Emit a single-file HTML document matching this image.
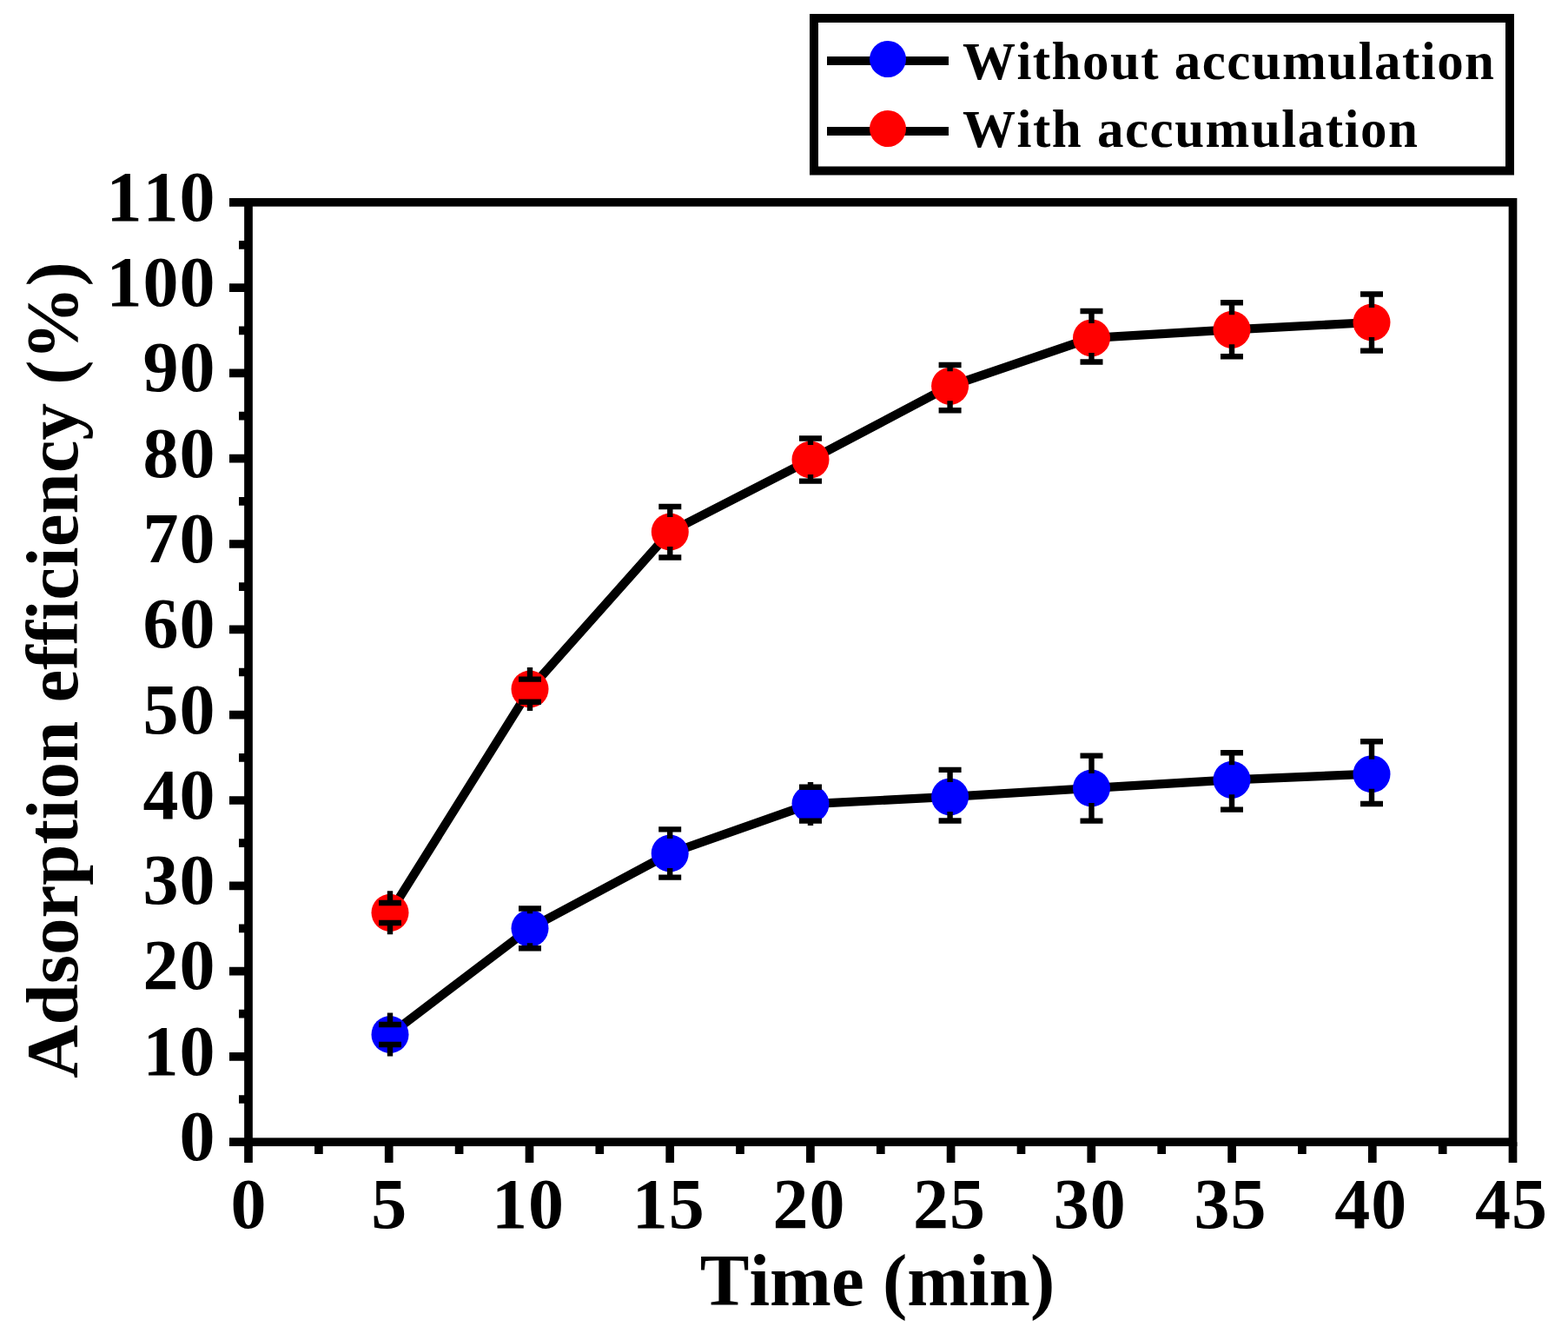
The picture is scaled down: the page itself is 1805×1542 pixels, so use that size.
<!DOCTYPE html>
<html><head><meta charset="utf-8"><title>Adsorption efficiency vs time</title>
<style>
html,body{margin:0;padding:0;background:#fff;}
body{width:1805px;height:1542px;overflow:hidden;}
svg{display:block;}
svg text{font-kerning:none;font-variant-ligatures:none;font-family:"Liberation Serif","Times New Roman",serif;font-weight:bold;fill:#000;}
</style></head>
<body>
<svg width="1805" height="1542" viewBox="0 0 1805 1542">
<rect width="1805" height="1542" fill="#fff"/>
<rect x="286" y="232.8" width="1455.5" height="1081.4" fill="none" stroke="#000" stroke-width="9.7"/><path d="M264 1314.2H286M264 1215.9H286M264 1117.6H286M264 1019.3H286M264 921H286M264 822.7H286M264 724.3H286M264 626H286M264 527.7H286M264 429.4H286M264 331.1H286M264 232.8H286M275 1265H286M275 1166.7H286M275 1068.4H286M275 970.1H286M275 871.8H286M275 773.5H286M275 675.2H286M275 576.9H286M275 478.6H286M275 380.3H286M275 281.9H286M286 1314.2V1338M447.7 1314.2V1338M609.5 1314.2V1338M771.2 1314.2V1338M932.9 1314.2V1338M1094.6 1314.2V1338M1256.3 1314.2V1338M1418.1 1314.2V1338M1579.8 1314.2V1338M1741.5 1314.2V1338M366.9 1314.2V1328M528.6 1314.2V1328M690.3 1314.2V1328M852 1314.2V1328M1013.8 1314.2V1328M1175.5 1314.2V1328M1337.2 1314.2V1328M1498.9 1314.2V1328M1660.7 1314.2V1328" stroke="#000" stroke-width="9.7" fill="none"/><g font-size="82" text-anchor="end" letter-spacing="1"><text x="248.5" y="1335">0</text><text x="248.5" y="1236.7">10</text><text x="248.5" y="1138.4">20</text><text x="248.5" y="1040.1">30</text><text x="248.5" y="941.8">40</text><text x="248.5" y="843.5">50</text><text x="248.5" y="745.1">60</text><text x="248.5" y="646.8">70</text><text x="248.5" y="548.5">80</text><text x="248.5" y="450.2">90</text><text x="248.5" y="351.9">100</text><text x="248.5" y="253.6">110</text></g><g font-size="82" text-anchor="middle" letter-spacing="1"><text x="286.5" y="1413">0</text><text x="448.2" y="1413">5</text><text x="608" y="1413">10</text><text x="769.7" y="1413">15</text><text x="931.4" y="1413">20</text><text x="1093.1" y="1413">25</text><text x="1254.8" y="1413">30</text><text x="1416.6" y="1413">35</text><text x="1578.3" y="1413">40</text><text x="1740" y="1413">45</text></g><text x="1010" y="1501.5" font-size="85" text-anchor="middle">Time (min)</text><text transform="translate(89 771) rotate(-90)" font-size="85" text-anchor="middle">Adsorption efficiency (%)</text><polyline points="449,1050.3 610,793 771.3,612 933,529 1093.6,444.3 1256.5,388.9 1418,379.3 1579,371" fill="none" stroke="#000" stroke-width="10.2" stroke-linejoin="round"/><circle cx="449" cy="1050.3" r="21.5" fill="#ff0000"/><circle cx="610" cy="793" r="21.5" fill="#ff0000"/><circle cx="771.3" cy="612" r="21.5" fill="#ff0000"/><circle cx="933" cy="529" r="21.5" fill="#ff0000"/><circle cx="1093.6" cy="444.3" r="21.5" fill="#ff0000"/><circle cx="1256.5" cy="388.9" r="21.5" fill="#ff0000"/><circle cx="1418" cy="379.3" r="21.5" fill="#ff0000"/><circle cx="1579" cy="371" r="21.5" fill="#ff0000"/><path d="M449 1039V1025.3M449 1062V1075.3M436 1039h26M436 1062h26M610 781.6V768M610 807.7V818M597 781.6h26M597 807.7h26M771.3 583V595M771.3 641.5V629M758.3 583h26M758.3 641.5h26M933 504.5V512M933 553.6V546M920 504.5h26M920 553.6h26M1093.6 420V427.3M1093.6 472.2V461.3M1080.6 420h26M1080.6 472.2h26M1256.5 358V371.9M1256.5 416.5V405.9M1243.5 358h26M1243.5 416.5h26M1418 348.3V362.3M1418 410.2V396.3M1405 348.3h26M1405 410.2h26M1579 338.5V354M1579 403.6V388M1566 338.5h26M1566 403.6h26" stroke="#000" stroke-width="6.4" fill="none"/><polyline points="449,1190.5 610,1068.3 771.2,982 933,925.1 1093.6,916.9 1256.5,907 1418,897.3 1579,890.7" fill="none" stroke="#000" stroke-width="10.2" stroke-linejoin="round"/><circle cx="449" cy="1190.5" r="21.5" fill="#0000ff"/><circle cx="610" cy="1068.3" r="21.5" fill="#0000ff"/><circle cx="771.2" cy="982" r="21.5" fill="#0000ff"/><circle cx="933" cy="925.1" r="21.5" fill="#0000ff"/><circle cx="1093.6" cy="916.9" r="21.5" fill="#0000ff"/><circle cx="1256.5" cy="907" r="21.5" fill="#0000ff"/><circle cx="1418" cy="897.3" r="21.5" fill="#0000ff"/><circle cx="1579" cy="890.7" r="21.5" fill="#0000ff"/><path d="M449 1179V1165.5M449 1202V1215.5M436 1179h26M436 1202h26M610 1045.5V1051.3M610 1091.2V1085.3M597 1045.5h26M597 1091.2h26M771.2 954.4V965M771.2 1009.6V999M758.2 954.4h26M758.2 1009.6h26M933 905.7V900.1M933 944.6V950.1M920 905.7h26M920 944.6h26M1093.6 885.9V899.9M1093.6 944.5V933.9M1080.6 885.9h26M1080.6 944.5h26M1256.5 869.6V890M1256.5 944.6V924M1243.5 869.6h26M1243.5 944.6h26M1418 866.3V880.3M1418 931.6V914.3M1405 866.3h26M1405 931.6h26M1579 853.3V873.7M1579 925V907.7M1566 853.3h26M1566 925h26" stroke="#000" stroke-width="6.4" fill="none"/><rect x="937" y="21" width="801" height="175.5" fill="#fff" stroke="#000" stroke-width="10"/><path d="M952 70H1092M952 151H1092" stroke="#000" stroke-width="10.2"/><circle cx="1022" cy="68" r="21" fill="#0000ff"/><circle cx="1022" cy="148" r="21" fill="#ff0000"/><g font-size="61"><text x="1108" y="90.5" textLength="612" lengthAdjust="spacing">Without accumulation</text><text x="1108" y="168.5" textLength="524" lengthAdjust="spacing">With accumulation</text></g>
</svg>
</body></html>
